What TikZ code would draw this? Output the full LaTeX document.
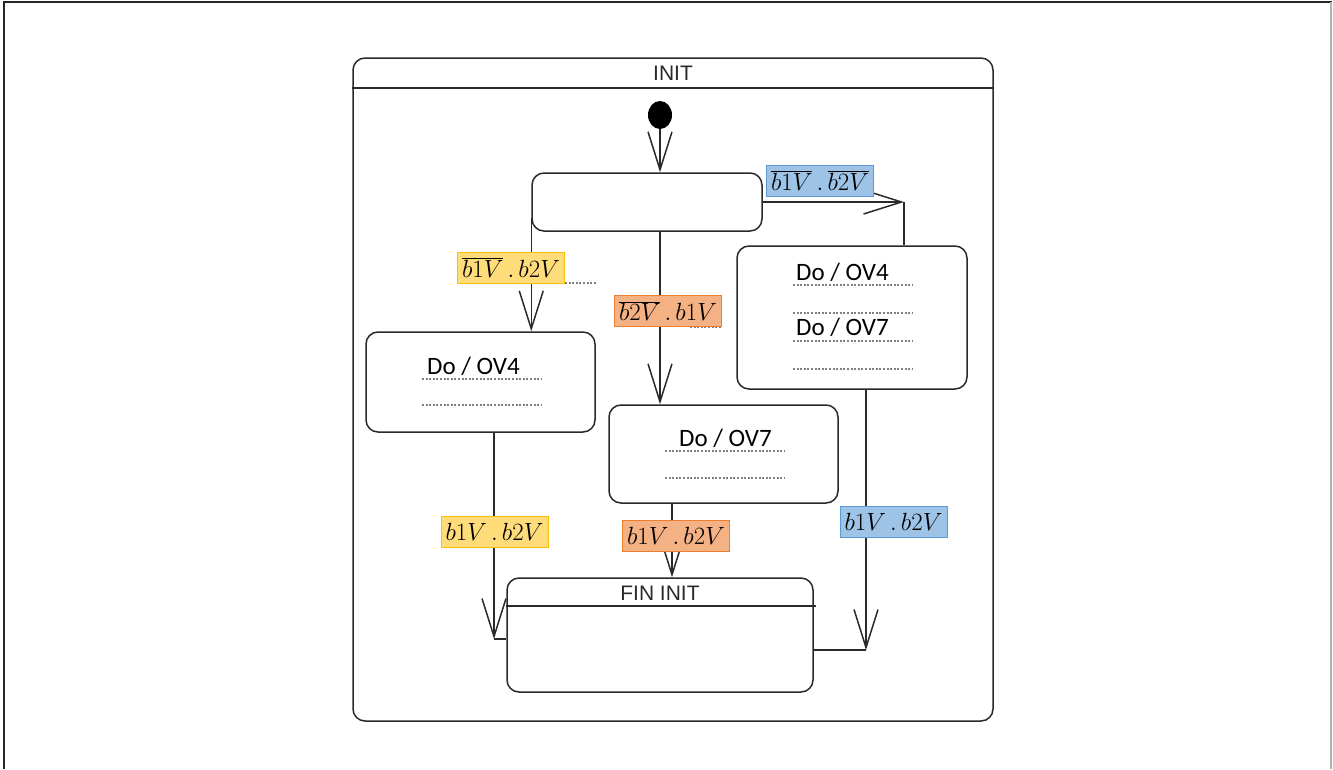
\documentclass[tikz,border=0pt]{standalone}
\usepackage{fontspec}
\setmainfont{Carlito}
\newfontfamily\arialf{Liberation Sans}
\usetikzlibrary{arrows.meta,shapes.geometric,calc}
\definecolor{ylwfill}{HTML}{FFDC7A}
\definecolor{ylwdraw}{HTML}{FFC000}
\definecolor{orgfill}{HTML}{F4B183}
\definecolor{orgdraw}{HTML}{ED7D31}
\definecolor{blufill}{HTML}{9DC3E6}
\definecolor{bludraw}{HTML}{5B9BD5}
\definecolor{linec}{HTML}{2A2A2A}
\newcommand{\gd}{\mkern3mu.\mkern3mu}
\begin{document}
\begin{tikzpicture}[x=1pt,y=-1pt,
  statebox/.style={draw=linec, line width=1.5pt, rounded corners=12pt, inner sep=0pt, fill=white},
  trans/.style={draw=linec, line width=1.5pt, -{Straight Barb[length=38pt,width=24pt,line width=1.5pt]}},
  plain/.style={draw=linec, line width=1.5pt},
  guard/.style={inner sep=0pt, line width=1pt, minimum width=107pt, minimum height=31pt, font=\fontsize{27}{30}\selectfont},
  ylab/.style={guard, fill=ylwfill, draw=ylwdraw},
  olab/.style={guard, fill=orgfill, draw=orgdraw},
  blab/.style={guard, fill=blufill, draw=bludraw},
  dots/.style={draw=gray, line width=1.1pt, dash pattern=on 2pt off 1.6pt},
  dotext/.style={font=\fontsize{25}{28}\selectfont, inner sep=0pt, anchor=base west},
  titletext/.style={font=\arialf\fontsize{21}{24}\selectfont, inner sep=0pt, text=linec}
]
\useasboundingbox (0,0) rectangle (1333,769);
% frame
\draw[line width=1.5pt, black!85] (4,769) -- (4,2) -- (1332,2);
\draw[line width=1.5pt, gray!60] (1331,2) -- (1331,769);

% outer INIT state
\node[statebox, minimum width=640pt, minimum height=663pt] (init) at (673,389.5) {};
\draw[plain] (init.west |- 0,88) -- (init.east |- 0,88);
\node[titletext] (inittitle) at (673,73) {INIT};

% initial pseudo-state
\node[ellipse, fill=black, minimum width=24pt, minimum height=28pt, inner sep=0pt] (start) at (660,115) {};

% states
\node[statebox, minimum width=230pt, minimum height=58pt] (box1) at (647,202) {};
\node[statebox, minimum width=229pt, minimum height=100pt] (left) at (480.5,382) {};
\node[statebox, minimum width=229pt, minimum height=98pt] (mid) at (723.5,454) {};
\node[statebox, minimum width=230pt, minimum height=143pt] (right) at (852,317.5) {};
\node[statebox, minimum width=306pt, minimum height=114pt] (fin) at (660,635) {};
\draw[plain] (fin.west |- 0,606) -- ([xshift=2pt]fin.east |- 0,606);
\node[titletext] (fintitle) at (660,593) {FIN INIT};

% activity texts
\node[dotext] (l1) at (427,374) {Do / OV4};
\draw[dots] (422,379) -- (541,379);
\draw[dots] (422,405) -- (541,405);

\node[dotext] (m1) at (679,446) {Do / OV7};
\draw[dots] (665,451) -- (784,451);
\draw[dots] (665,478) -- (784,478);

\node[dotext] (r1) at (796,280) {Do / OV4};
\draw[dots] (793,285) -- (913,285);
\draw[dots] (793,313) -- (913,313);
\node[dotext] (r2) at (796,335) {Do / OV7};
\draw[dots] (793,341) -- (913,341);
\draw[dots] (793,369) -- (913,369);

% transitions
\draw[trans] (start.south) -- ([xshift=13pt]box1.north);

\coordinate (cB) at (904,202);
\draw[trans] (box1.east) -- (cB);
\draw[plain] (cB) -- (cB |- right.north);

\draw[trans] ([yshift=14pt]box1.south west) -- (box1.west |- left.north);

\draw[trans] ([xshift=13pt]box1.south) -- ([xshift=13pt]box1.south |- mid.north);

\draw[trans] ([xshift=12pt]fin.north |- mid.south) -- ([xshift=12pt]fin.north);

\coordinate (cL) at (494,639);
\draw[trans] (cL |- left.south) -- (cL);
\draw[plain] (cL) -- (fin.west |- cL);

\coordinate (cR) at (866,650);
\draw[trans] (cR |- right.south) -- (cR);
\draw[plain] (cR) -- (fin.east |- cR);

% small dotted guide remnants
\draw[dots] (547,283) -- (596,283);
\draw[dots] (690,327) -- (721,327);

% guards
\node[blab] (g1) at (820,180.5) {$\overline{b1V}\gd\overline{b2V}$};
\node[ylab] (g2) at (511,267.5) {$\overline{b1V}\gd b2V$};
\node[olab] (g3) at (668,311) {$\overline{b2V}\gd b1V$};
\node[ylab] (g4) at (494.5,531.5) {$b1V\gd b2V$};
\node[olab] (g5) at (676,535.5) {$b1V\gd b2V$};
\node[blab] (g6) at (893.5,521.5) {$b1V\gd b2V$};
\end{tikzpicture}
\end{document}
